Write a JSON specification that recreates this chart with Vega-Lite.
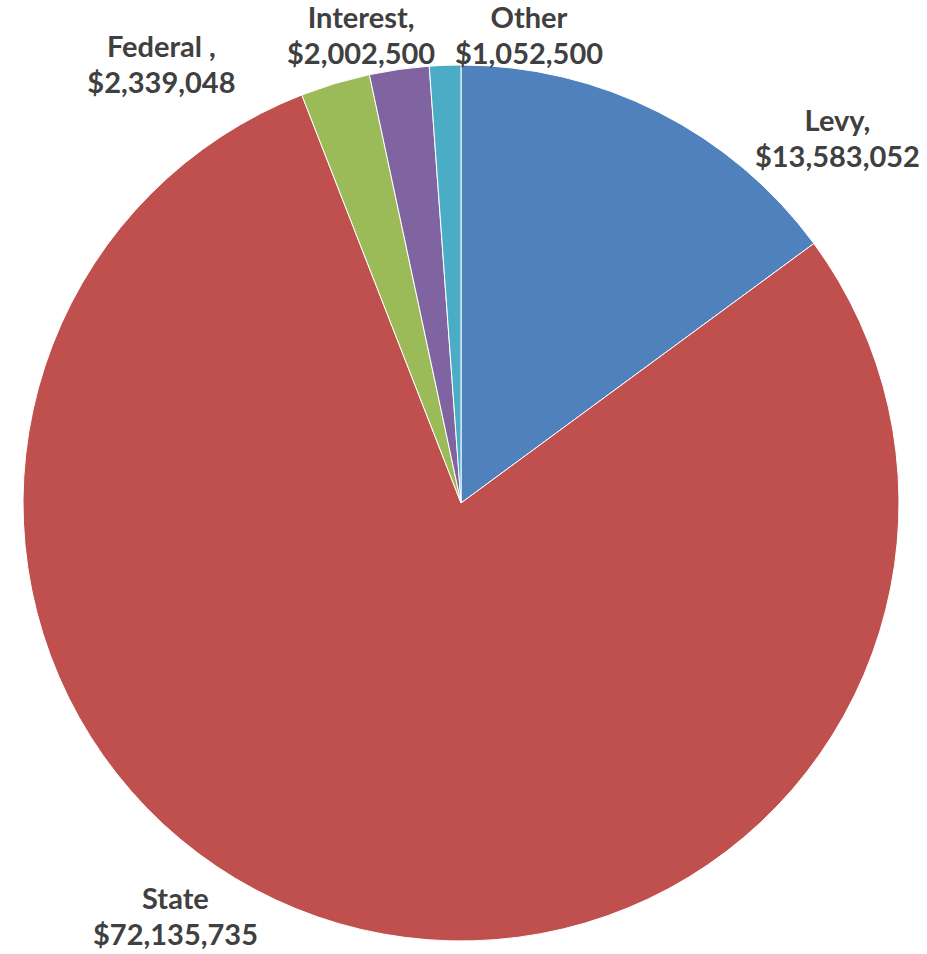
{
  "$schema": "https://vega.github.io/schema/vega-lite/v6.json",
  "width": 922,
  "height": 902,
  "autosize": "none",
  "padding": {"left": 0, "top": 52, "right": 5, "bottom": 0},
  "background": "white",
  "config": {"view": {"stroke": null}},
  "data": {
    "values": [
      {"category": "Levy", "value": 13583052, "rank": 1, "label": ["Levy,", "$13,583,052"]},
      {"category": "State", "value": 72135735, "rank": 2, "label": ["State", "$72,135,735"]},
      {"category": "Federal", "value": 2339048, "rank": 3, "label": ["Federal ,", "$2,339,048"]},
      {"category": "Interest", "value": 2002500, "rank": 4, "label": ["Interest,", "$2,002,500"]},
      {"category": "Other", "value": 1052500, "rank": 5, "label": ["Other", "$1,052,500"]}
    ]
  },
  "layer": [
    {
      "mark": {"type": "arc", "radius": 438, "stroke": "#ffffff", "strokeWidth": 1},
      "encoding": {
        "theta": {"field": "value", "type": "quantitative", "stack": true},
        "order": {"field": "rank", "type": "ordinal"},
        "color": {
          "field": "category",
          "type": "nominal",
          "scale": {
            "domain": ["Levy", "State", "Federal", "Interest", "Other"],
            "range": ["#4F81BD", "#C0504D", "#9BBB59", "#8064A2", "#4BACC6"]
          },
          "legend": null
        }
      }
    },
    {
      "mark": {
        "type": "text",
        "font": "Lato",
        "fontWeight": "bold",
        "fontSize": 29,
        "lineHeight": 36,
        "fill": "#404040",
        "align": "center",
        "baseline": "middle",
        "dy": -18
      },
      "encoding": {
        "theta": {
          "field": "value",
          "type": "quantitative",
          "scale": {
            "type": "linear",
            "zero": false,
            "nice": false,
            "domain": [1052500, 2002500, 2339048, 13583052, 72135735],
            "range": [0.1449, 6.0720, 5.6822, 0.8035, 3.7443]
          }
        },
        "radius": {
          "field": "value",
          "type": "quantitative",
          "scale": {
            "type": "linear",
            "zero": false,
            "nice": false,
            "domain": [1052500, 2002500, 2339048, 13583052, 72135735],
            "range": [470.9, 476.6, 529.8, 523.0, 503.7]
          }
        },
        "text": {"field": "label", "type": "nominal"}
      }
    }
  ],
  "resolve": {"scale": {"theta": "independent", "radius": "independent"}}
}
